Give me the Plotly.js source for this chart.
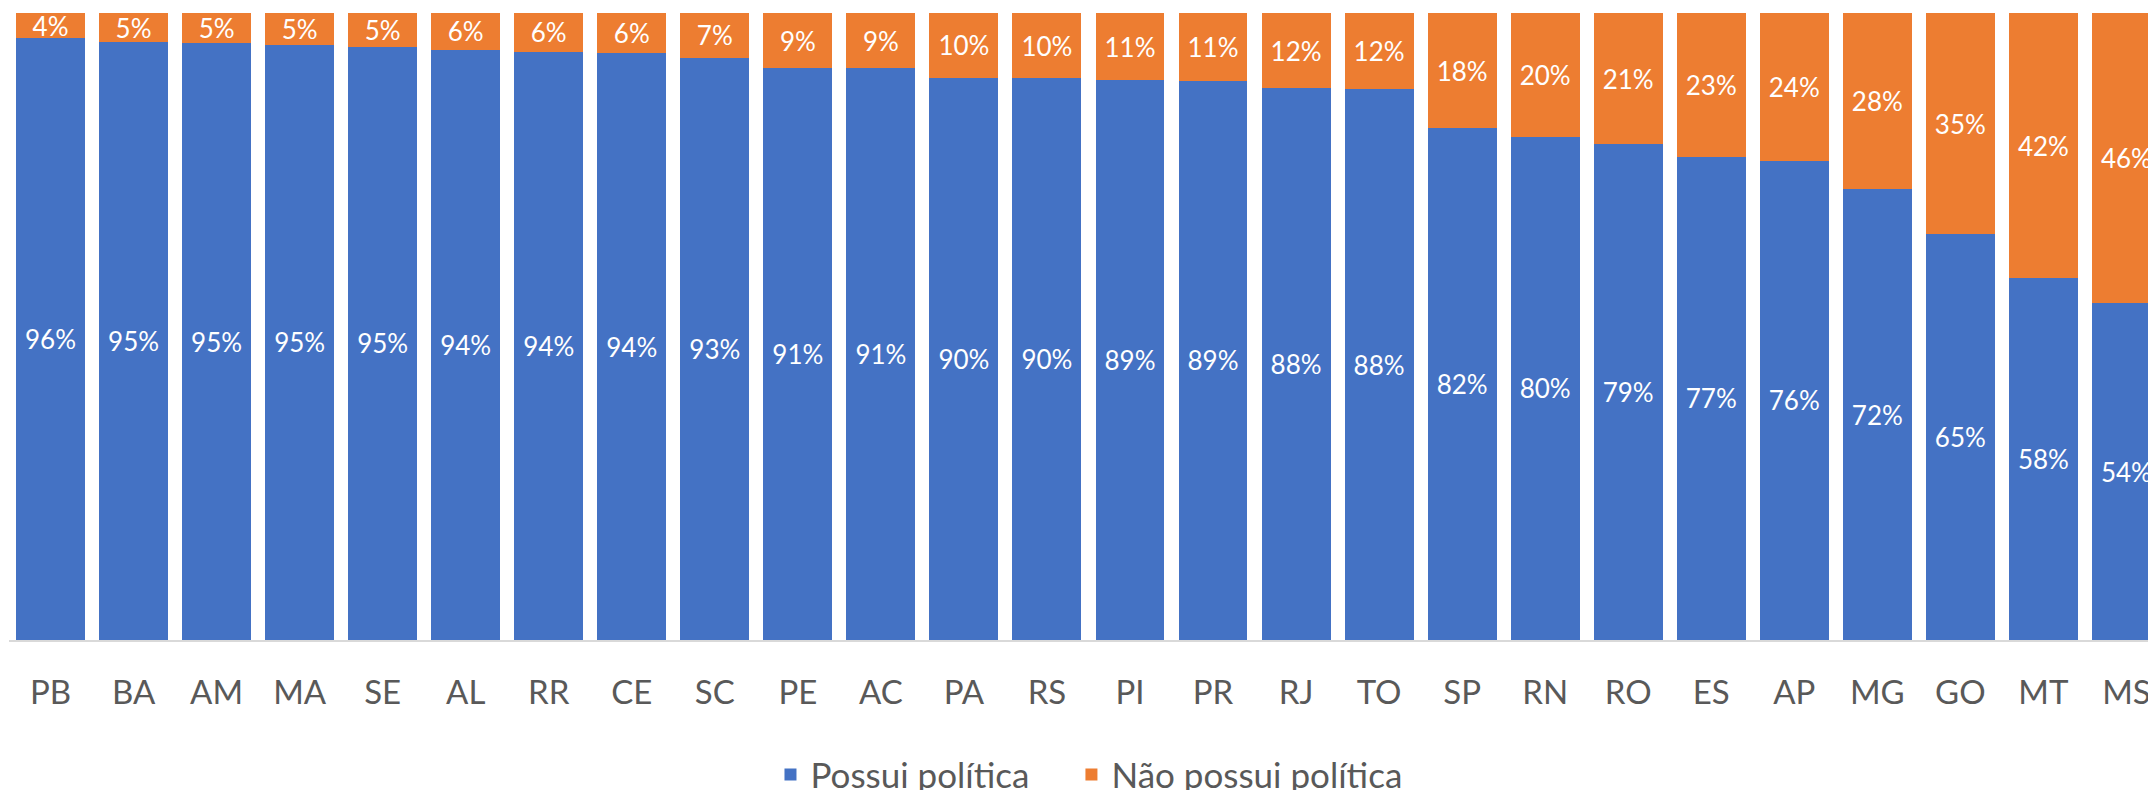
<!DOCTYPE html>
<html>
<head>
<meta charset="utf-8">
<script src="https://cdn.plot.ly/plotly-3.0.1.min.js"></script>
<style>
  html, body { margin: 0; padding: 0; background: #ffffff; }
  #chart { width: 2148px; height: 790px; }
</style>
</head>
<body>
<div id="chart"></div>
<script>
// States (UF)
const states = ["PB","BA","AM","MA","SE","AL","RR","CE","SC","PE","AC","PA","RS","PI","PR","RJ","TO","SP","RN","RO","ES","AP","MG","GO","MT","MS"];

// Share with a policy (%)
const possui = [96.0, 95.3, 95.2, 94.9, 94.6, 94.1, 93.8, 93.6, 92.9, 91.2, 91.2, 89.7, 89.6, 89.3, 89.2, 88.0, 87.8, 81.6, 80.3, 79.1, 77.1, 76.4, 71.9, 64.7, 57.7, 53.7];
// Share without a policy (%)
const naoPossui = [4.0, 4.7, 4.8, 5.1, 5.4, 5.9, 6.2, 6.4, 7.1, 8.8, 8.8, 10.3, 10.4, 10.7, 10.8, 12.0, 12.2, 18.4, 19.7, 20.9, 22.9, 23.6, 28.1, 35.3, 42.3, 46.3];

// Data labels as printed on the chart
const possuiLabels = ["96%","95%","95%","95%","95%","94%","94%","94%","93%","91%","91%","90%","90%","89%","89%","88%","88%","82%","80%","79%","77%","76%","72%","65%","58%","54%"];
const naoPossuiLabels = ["4%","5%","5%","5%","5%","6%","6%","6%","7%","9%","9%","10%","10%","11%","11%","12%","12%","18%","20%","21%","23%","24%","28%","35%","42%","46%"];

const FONT = "Lato, 'Open Sans', sans-serif";

const traces = [
  {
    type: "bar",
    name: "Possui política",
    legend: "legend",
    x: states,
    y: possui,
    text: possuiLabels,
    textposition: "inside",
    insidetextanchor: "middle",
    textangle: 0,
    constraintext: "none",
    textfont: { family: FONT, size: 26, color: "#ffffff" },
    marker: { color: "#4472C4" },
    hoverinfo: "x+text"
  },
  {
    type: "bar",
    name: "Não possui política",
    legend: "legend2",
    x: states,
    y: naoPossui,
    text: naoPossuiLabels,
    textposition: "inside",
    insidetextanchor: "middle",
    textangle: 0,
    constraintext: "none",
    textfont: { family: FONT, size: 26, color: "#ffffff" },
    marker: { color: "#ED7D31" },
    hoverinfo: "x+text"
  }
];

const legendStyle = {
  orientation: "h",
  xanchor: "left",
  y: -0.215,
  yanchor: "middle",
  font: { family: FONT, size: 35, color: "#595959" }
};

const layout = {
  width: 2148,
  height: 790,
  margin: { l: 9, r: 0, t: 13, b: 150, autoexpand: false },
  paper_bgcolor: "#ffffff",
  plot_bgcolor: "#ffffff",
  barmode: "stack",
  bargap: 0.17,
  font: { family: FONT, color: "#595959" },
  showlegend: true,
  legend: Object.assign({ x: 0.356 }, legendStyle),
  legend2: Object.assign({ x: 0.4967 }, legendStyle),
  xaxis: {
    type: "category",
    range: [-0.5, 25.26],
    showline: true,
    linecolor: "#d9d9d9",
    linewidth: 2,
    ticks: "",
    showgrid: false,
    zeroline: false,
    tickfont: { family: FONT, size: 33, color: "#595959" },
    ticklabelstandoff: 22,
    fixedrange: true
  },
  yaxis: {
    range: [0, 100],
    showticklabels: false,
    showgrid: false,
    zeroline: false,
    showline: false,
    ticks: "",
    fixedrange: true
  }
};

Plotly.newPlot("chart", traces, layout, { displayModeBar: false, staticPlot: true });
</script>
</body>
</html>
